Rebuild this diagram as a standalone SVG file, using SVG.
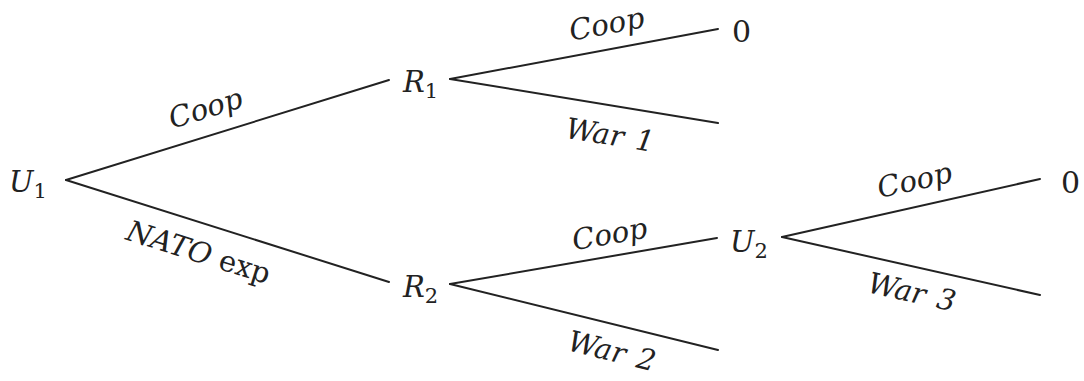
<svg xmlns="http://www.w3.org/2000/svg" width="1084" height="381" viewBox="0 0 1084 381">
<style>
.e{stroke:#222;stroke-width:2;fill:none;stroke-linecap:round}
.t{font-family:"DejaVu Serif","Liberation Serif",serif;font-style:italic;font-size:29px;fill:#222}
.s{font-style:normal;font-size:21px}
.n{font-family:"DejaVu Serif","Liberation Serif",serif;font-size:30px;fill:#222}
.l{font-family:"DejaVu Serif","Liberation Serif",serif;font-style:italic;font-size:29px;fill:#222;text-anchor:middle;word-spacing:3px}
.u{font-style:normal}
</style>
<rect width="1084" height="381" fill="#fff"/>
<g id="connectors">
<line class="e" x1="66" y1="180" x2="389" y2="80"/>
<line class="e" x1="66" y1="180" x2="389" y2="282"/>
<line class="e" x1="450" y1="79" x2="718" y2="29"/>
<line class="e" x1="450" y1="79" x2="718" y2="123"/>
<line class="e" x1="450" y1="284" x2="717" y2="238"/>
<line class="e" x1="450" y1="284" x2="718" y2="350"/>
<line class="e" x1="782" y1="237" x2="1040" y2="179"/>
<line class="e" x1="782" y1="237" x2="1040" y2="295"/>
</g>
<g id="labels">
<text class="l" transform="translate(206,110) rotate(-17)" y="8">Coop</text>
<text class="l" transform="translate(198,254) rotate(17.5)" y="8" style="word-spacing:0">NATO <tspan class="u">exp</tspan></text>
<text class="l" transform="translate(607,26) rotate(-10.6)" y="8">Coop</text>
<text class="l" transform="translate(610,135) rotate(9.3)" y="10">War 1</text>
<text class="l" transform="translate(610,236) rotate(-9.8)" y="8">Coop</text>
<text class="l" transform="translate(612,351) rotate(13.8)" y="10">War 2</text>
<text class="l" transform="translate(915,182) rotate(-12.7)" y="8">Coop</text>
<text class="l" transform="translate(912,292) rotate(12.7)" y="10">War 3</text>
</g>
<g id="U1"><text class="t" x="9" y="192">U<tspan class="s" dy="6">1</tspan></text></g>
<g id="R1"><text class="t" x="403" y="92">R<tspan class="s" dy="6">1</tspan></text></g>
<g id="R2"><text class="t" x="403" y="297">R<tspan class="s" dy="6">2</tspan></text></g>
<g id="U2"><text class="t" x="730" y="252">U<tspan class="s" dy="6">2</tspan></text></g>
<g id="T1"><text class="n" x="732" y="42">0</text></g>
<g id="T2"><text class="n" x="1061" y="193">0</text></g>
</svg>
